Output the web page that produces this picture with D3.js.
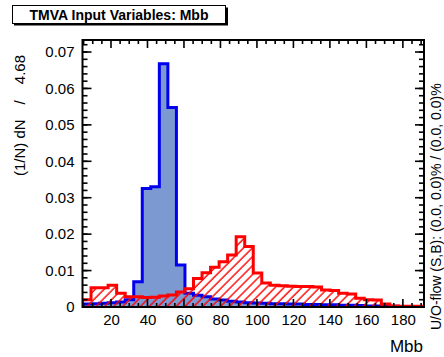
<!DOCTYPE html>
<html>
<head>
<meta charset="utf-8">
<script src="https://cdn.jsdelivr.net/npm/d3@7"></script>
<style>
body { margin: 0; background: #fff; }
text { font-family: "Liberation Sans", Arial, Helvetica, sans-serif; }
</style>
</head>
<body>
<script>
var WIDTH = 444, HEIGHT = 357;
var LEFT = 82.5, RIGHT = 424, TOP = 40, BOTTOM = 307;

// histogram binning (40 bins of 4.68)
var X_MIN = 4.38;
var BIN_W = 4.68;
var N_BINS = 40;
var Y_MAX = 0.0733;

// signal (blue, filled)
var signal = [
    0.0008, 0.0009, 0.0010, 0.0012, 0.0014, 0.0020, 0.0069, 0.0325, 0.0330, 0.0668,
    0.0548, 0.0115, 0.0038, 0.0032, 0.0028, 0.0022, 0.0019, 0.0016, 0.0014, 0.0012,
    0.0011, 0.0010, 0.0009, 0.0009, 0.0008, 0.0008, 0.0007, 0.0007, 0.0006, 0.0006,
    0.0005, 0.0005, 0.0004, 0.0003, 0.0003, 0.0002, 0.0002, 0.0001, 0.0001, 0.0001
];
// background (red, hatched)
var background = [
    0.0020, 0.0053, 0.0053, 0.0060, 0.0038, 0.0028, 0.0028, 0.0026, 0.0027, 0.0030,
    0.0033, 0.0041, 0.0050, 0.0078, 0.0094, 0.0109, 0.0124, 0.0143, 0.0193, 0.0166,
    0.0093, 0.0066, 0.0060, 0.0058, 0.0057, 0.0056, 0.0056, 0.0055, 0.0047, 0.0045,
    0.0038, 0.0036, 0.0024, 0.0020, 0.0019, 0.0008, 0.0003, 0.0002, 0.0002, 0.0002
];

var xTicks = [20, 40, 60, 80, 100, 120, 140, 160, 180];
var xMinorTicks = d3.range(5, 192, 5);
var yTicks = [0, 0.01, 0.02, 0.03, 0.04, 0.05, 0.06, 0.07];
var yMinorTicks = d3.range(0, 0.0734, 0.002);

var svg = d3.select('body').append('svg')
    .attr('width', WIDTH)
    .attr('height', HEIGHT);

var x = d3.scaleLinear().domain([X_MIN, X_MIN + N_BINS * BIN_W]).range([LEFT, RIGHT]);
var y = d3.scaleLinear().domain([0, Y_MAX]).range([BOTTOM, TOP]);

var defs = svg.append('defs');
defs.append('clipPath').attr('id', 'frameClip')
    .append('rect')
    .attr('x', LEFT).attr('y', TOP)
    .attr('width', RIGHT - LEFT).attr('height', BOTTOM - TOP);
var hatch = defs.append('pattern')
    .attr('id', 'hatch')
    .attr('patternUnits', 'userSpaceOnUse')
    .attr('width', 6.3).attr('height', 6.3)
    .attr('patternTransform', 'rotate(45)');
hatch.append('line')
    .attr('x1', 1).attr('y1', 0).attr('x2', 1).attr('y2', 6.3)
    .attr('stroke', '#ff0000').attr('stroke-width', 1.4);

function stepPoints(vals) {
    var pts = [[x(X_MIN), y(0)]];
    vals.forEach(function (v, i) {
        pts.push([x(X_MIN + i * BIN_W), y(v)]);
        pts.push([x(X_MIN + (i + 1) * BIN_W), y(v)]);
    });
    pts.push([x(X_MIN + N_BINS * BIN_W), y(0)]);
    return pts;
}
var line = d3.line();

var plot = svg.append('g').attr('clip-path', 'url(#frameClip)');

plot.append('path')
    .attr('d', line(stepPoints(signal)) + 'Z')
    .attr('fill', '#7d99d1')
    .attr('stroke', 'none');
plot.append('path')
    .attr('d', line(stepPoints(signal)))
    .attr('fill', 'none')
    .attr('stroke', '#0000ee')
    .attr('stroke-width', 3);

plot.append('path')
    .attr('d', line(stepPoints(background)) + 'Z')
    .attr('fill', 'url(#hatch)')
    .attr('stroke', 'none');
plot.append('path')
    .attr('d', line(stepPoints(background)))
    .attr('fill', 'none')
    .attr('stroke', '#ff0000')
    .attr('stroke-width', 3);

// frame
svg.append('rect')
    .attr('x', LEFT).attr('y', TOP)
    .attr('width', RIGHT - LEFT).attr('height', BOTTOM - TOP)
    .attr('fill', 'none')
    .attr('stroke', '#000')
    .attr('stroke-width', 2);

// ticks, ROOT style: all four sides, pointing inward
var ticks = svg.append('g').attr('stroke', '#000').attr('stroke-width', 1.6);
function xTick(v, len) {
    ticks.append('line').attr('x1', x(v)).attr('x2', x(v)).attr('y1', BOTTOM).attr('y2', BOTTOM - len);
    ticks.append('line').attr('x1', x(v)).attr('x2', x(v)).attr('y1', TOP).attr('y2', TOP + len);
}
function yTick(v, len) {
    ticks.append('line').attr('y1', y(v)).attr('y2', y(v)).attr('x1', LEFT).attr('x2', LEFT + len);
    ticks.append('line').attr('y1', y(v)).attr('y2', y(v)).attr('x1', RIGHT).attr('x2', RIGHT - len);
}
xMinorTicks.forEach(function (v) { if (v % 20 != 0) xTick(v, 4); });
xTicks.forEach(function (v) { xTick(v, 8); });
yMinorTicks.forEach(function (v) { yTick(v, 5); });
yTicks.forEach(function (v) { yTick(v, 9); });

// tick labels through d3 axes
var xAxis = svg.append('g')
    .attr('transform', 'translate(0,' + BOTTOM + ')')
    .call(d3.axisBottom(x).tickValues(xTicks).tickSize(0).tickPadding(7));
var yAxis = svg.append('g')
    .attr('transform', 'translate(' + LEFT + ',0)')
    .call(d3.axisLeft(y).tickValues(yTicks).tickSize(0).tickPadding(8)
        .tickFormat(function (d) { return d == 0 ? '0' : d.toFixed(2); }));
svg.selectAll('.domain').remove();
svg.selectAll('.tick text')
    .attr('font-size', 15)
    .attr('fill', '#000')
    .style('font-family', '"Liberation Sans", Arial, sans-serif');

// axis titles
svg.append('text')
    .attr('x', 423).attr('y', 352)
    .attr('text-anchor', 'end')
    .attr('font-size', 17)
    .text('Mbb');

var yTitle = svg.append('text')
    .attr('transform', 'translate(25,55) rotate(-90)')
    .attr('text-anchor', 'end')
    .attr('font-size', 15);
yTitle.append('tspan').text('(1/N) dN');
yTitle.append('tspan').attr('dx', 15).text('/');
yTitle.append('tspan').attr('dx', 16).text('4.68');

svg.append('text')
    .attr('transform', 'translate(441,330) rotate(-90)')
    .attr('text-anchor', 'start')
    .attr('font-size', 14)
    .text('U/O-flow (S,B): (0.0, 0.0)% / (0.0, 0.0)%');

// title box with shadow
svg.append('rect')
    .attr('x', 14).attr('y', 7.5)
    .attr('width', 214).attr('height', 18)
    .attr('fill', '#000');
svg.append('rect')
    .attr('x', 12.5).attr('y', 5.5)
    .attr('width', 213).attr('height', 18)
    .attr('fill', '#fff')
    .attr('stroke', '#000')
    .attr('stroke-width', 1);
svg.append('text')
    .attr('x', 119).attr('y', 20)
    .attr('text-anchor', 'middle')
    .attr('font-size', 14)
    .attr('font-weight', 'bold')
    .text('TMVA Input Variables: Mbb');
</script>
</body>
</html>
